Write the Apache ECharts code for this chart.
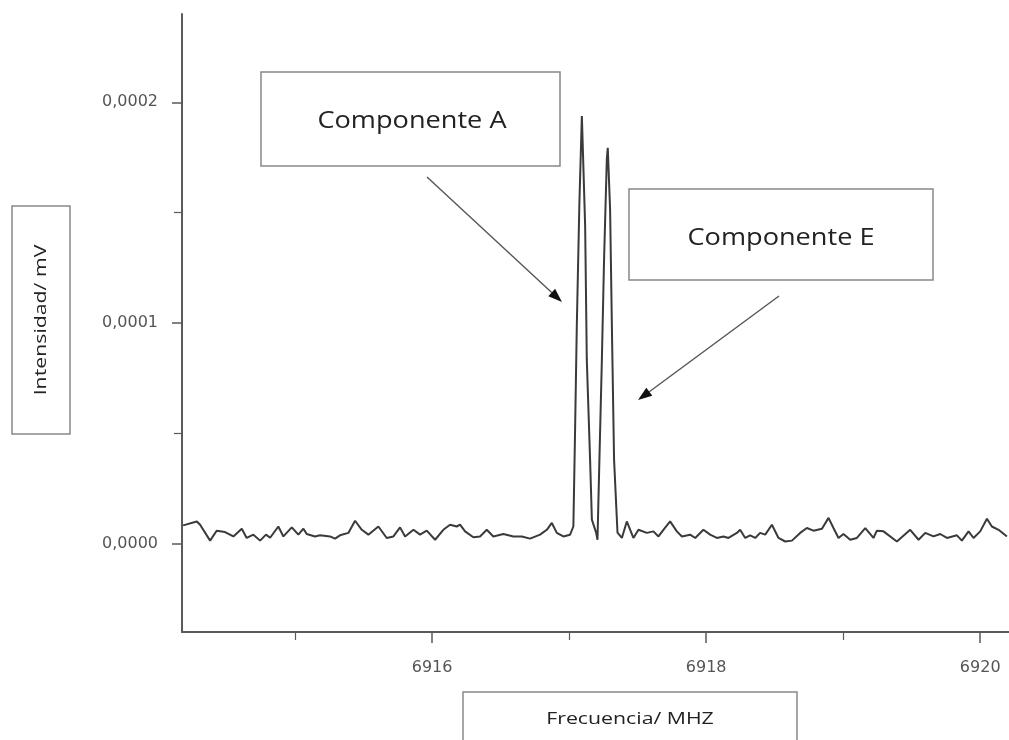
<!DOCTYPE html>
<html>
<head>
<meta charset="utf-8">
<script src="https://cdn.jsdelivr.net/npm/echarts@6/dist/echarts.min.js"></script>
<style>
html,body{margin:0;padding:0;background:#fff;}
#chart{width:1009px;height:740px;}
</style>
</head>
<body>
<div id="chart"></div>
<script>
// Frequency (MHz) of each sampled point of the spectrum
const freq = [
  6914.183, 6914.283, 6914.307, 6914.380, 6914.428, 6914.489, 6914.550, 6914.611, 6914.647, 6914.696,
  6914.745, 6914.788, 6914.818, 6914.878, 6914.915, 6914.976, 6915.024, 6915.061, 6915.085, 6915.146,
  6915.182, 6915.255, 6915.292, 6915.328, 6915.389, 6915.438, 6915.487, 6915.535, 6915.608, 6915.669,
  6915.718, 6915.766, 6915.803, 6915.864, 6915.912, 6915.961, 6916.022, 6916.082, 6916.131, 6916.180,
  6916.204, 6916.241, 6916.301, 6916.350, 6916.399, 6916.447, 6916.520, 6916.593, 6916.655, 6916.715,
  6916.788, 6916.837, 6916.874, 6916.910, 6916.958, 6917.007, 6917.031, 6917.044, 6917.056, 6917.075,
  6917.093, 6917.117, 6917.129, 6917.153, 6917.166, 6917.197, 6917.207, 6917.221, 6917.239, 6917.255,
  6917.275, 6917.282, 6917.299, 6917.312, 6917.328, 6917.353, 6917.385, 6917.421, 6917.469, 6917.506,
  6917.567, 6917.615, 6917.652, 6917.688, 6917.737, 6917.786, 6917.823, 6917.883, 6917.920, 6917.980,
  6918.029, 6918.078, 6918.126, 6918.163, 6918.224, 6918.248, 6918.285, 6918.321, 6918.358, 6918.394,
  6918.431, 6918.480, 6918.528, 6918.577, 6918.626, 6918.686, 6918.735, 6918.783, 6918.845, 6918.893,
  6918.929, 6918.966, 6919.002, 6919.051, 6919.100, 6919.161, 6919.221, 6919.246, 6919.294, 6919.392,
  6919.489, 6919.550, 6919.599, 6919.659, 6919.708, 6919.757, 6919.830, 6919.866, 6919.915, 6919.951,
  6920.000, 6920.049, 6920.085, 6920.134, 6920.195
];
// Intensity (mV) at each frequency
const intensity = [
  8.3e-6, 10.1e-6, 8.6e-6, 1.4e-6, 5.9e-6, 5.3e-6, 3.3e-6, 6.8e-6, 2.6e-6, 4.1e-6,
  1.4e-6, 4.1e-6, 2.7e-6, 7.8e-6, 3.3e-6, 7.4e-6, 4.1e-6, 6.8e-6, 4.4e-6, 3.3e-6,
  3.8e-6, 3.3e-6, 2.3e-6, 3.8e-6, 4.9e-6, 10.4e-6, 6.3e-6, 4.1e-6, 7.8e-6, 2.6e-6,
  3.3e-6, 7.4e-6, 3.3e-6, 6.3e-6, 4.1e-6, 5.9e-6, 1.8e-6, 6.3e-6, 8.6e-6, 7.8e-6,
  8.6e-6, 5.6e-6, 2.9e-6, 3.3e-6, 6.3e-6, 3.3e-6, 4.4e-6, 3.3e-6, 3.3e-6, 2.3e-6,
  4.1e-6, 6.3e-6, 9.4e-6, 4.9e-6, 3.3e-6, 4.1e-6, 7.8e-6, 53.2e-6, 98.5e-6, 154.6e-6,
  193.8e-6, 143.9e-6, 83.4e-6, 38.1e-6, 10.9e-6, 5.0e-6, 1.8e-6, 38.1e-6, 83.4e-6, 128.8e-6,
  174.1e-6, 179.4e-6, 151.5e-6, 98.5e-6, 38.1e-6, 5.0e-6, 2.6e-6, 10.1e-6, 2.6e-6, 6.3e-6,
  4.9e-6, 5.6e-6, 3.3e-6, 6.3e-6, 10.1e-6, 5.6e-6, 3.3e-6, 4.1e-6, 2.6e-6, 6.3e-6,
  4.1e-6, 2.6e-6, 3.3e-6, 2.6e-6, 4.9e-6, 6.3e-6, 2.6e-6, 3.8e-6, 2.6e-6, 4.9e-6,
  4.1e-6, 8.6e-6, 2.6e-6, 1.0e-6, 1.4e-6, 4.9e-6, 7.1e-6, 5.9e-6, 6.8e-6, 11.7e-6,
  7.1e-6, 2.6e-6, 4.4e-6, 1.8e-6, 2.6e-6, 7.1e-6, 2.6e-6, 5.9e-6, 5.6e-6, 1.0e-6,
  6.3e-6, 1.8e-6, 4.9e-6, 3.3e-6, 4.4e-6, 2.6e-6, 3.8e-6, 1.4e-6, 5.6e-6, 2.6e-6,
  5.6e-6, 11.3e-6, 7.8e-6, 6.3e-6, 3.3e-6
];
// Tick values
const xLabelTicks = [6916, 6918, 6920];
const xMinorTicks = [6915, 6917, 6919];
const yLabelTicks = [0, 0.0001, 0.0002];
const yMinorTicks = [0.00005, 0.00015];
// Annotation texts
const labelA = 'Componente A';
const labelE = 'Componente E';
const yTitle = 'Intensidad/ mV';
const xTitle = 'Frecuencia/ MHZ';

const chart = echarts.init(document.getElementById('chart'), null, {renderer: 'canvas'});
const axisColor = '#5a5a5a';
const labelFont = {color: '#555', fontSize: 16, fontFamily: 'DejaVu Sans, Liberation Sans, sans-serif'};
const xMin = 6914.175, xMax = 6920.21;
const yMin = -0.00004, yMax = 0.00024;
const boxFont = 'Open Sans, Noto Sans, sans-serif';

const option = {
  animation: false,
  backgroundColor: '#fff',
  grid: {left: 182, top: 14, right: 0, bottom: 108, containLabel: false},
  xAxis: [
    {
      type: 'value', position: 'bottom', min: xMin, max: xMax,
      axisLine: {show: true, onZero: false, lineStyle: {color: axisColor, width: 2}},
      axisTick: {show: true, customValues: xLabelTicks, length: 11, lineStyle: {color: axisColor, width: 1.5}},
      axisLabel: Object.assign({customValues: xLabelTicks, margin: 28, formatter: v => String(Math.round(v))}, labelFont),
      splitLine: {show: false}
    },
    {
      type: 'value', position: 'bottom', min: xMin, max: xMax,
      axisLine: {show: false, onZero: false},
      axisTick: {show: true, customValues: xMinorTicks, length: 8, lineStyle: {color: axisColor, width: 1.2}},
      axisLabel: {show: false},
      splitLine: {show: false}
    }
  ],
  yAxis: [
    {
      type: 'value', position: 'left', min: yMin, max: yMax,
      axisLine: {show: true, onZero: false, lineStyle: {color: axisColor, width: 2}},
      axisTick: {show: true, customValues: yLabelTicks, length: 10, lineStyle: {color: axisColor, width: 1.5}},
      axisLabel: Object.assign({customValues: yLabelTicks, margin: 24, formatter: v => v.toFixed(4).replace('.', ',')}, labelFont),
      splitLine: {show: false}
    },
    {
      type: 'value', position: 'left', min: yMin, max: yMax,
      axisLine: {show: false, onZero: false},
      axisTick: {show: true, customValues: yMinorTicks, length: 8, lineStyle: {color: axisColor, width: 1.2}},
      axisLabel: {show: false},
      splitLine: {show: false}
    }
  ],
  series: [{
    type: 'line',
    xAxisIndex: 0, yAxisIndex: 0,
    data: freq.map((f, i) => [f, intensity[i]]),
    showSymbol: false, symbol: 'none',
    lineStyle: {color: '#3a3a3a', width: 2},
    clip: true
  }],
  graphic: [
    // Componente A box
    {type: 'rect', shape: {x: 261, y: 72, width: 299, height: 94}, style: {fill: '#fff', stroke: '#888', lineWidth: 1.5}, z: 10},
    {type: 'text', x: 412, y: 121, scaleX: 1.18, style: {text: labelA, font: '23px ' + boxFont, fill: '#222', align: 'center', verticalAlign: 'middle'}, z: 11},
    // Componente E box
    {type: 'rect', shape: {x: 629, y: 189, width: 304, height: 91}, style: {fill: '#fff', stroke: '#888', lineWidth: 1.5}, z: 10},
    {type: 'text', x: 781, y: 238, scaleX: 1.18, style: {text: labelE, font: '23px ' + boxFont, fill: '#222', align: 'center', verticalAlign: 'middle'}, z: 11},
    // y title box
    {type: 'rect', shape: {x: 12, y: 206, width: 58, height: 228}, style: {fill: '#fff', stroke: '#888', lineWidth: 1.5}, z: 10},
    {type: 'text', x: 41, y: 320, rotation: Math.PI / 2, scaleX: 1.33, style: {text: yTitle, font: '16px ' + boxFont, fill: '#222', align: 'center', verticalAlign: 'middle'}, z: 11},
    // x title box
    {type: 'rect', shape: {x: 463, y: 692, width: 334, height: 70}, style: {fill: '#fff', stroke: '#888', lineWidth: 1.5}, z: 10},
    {type: 'text', x: 630, y: 719, scaleX: 1.33, style: {text: xTitle, font: '16px ' + boxFont, fill: '#222', align: 'center', verticalAlign: 'middle'}, z: 11},
    // arrow A
    {type: 'line', shape: {x1: 427, y1: 177, x2: 551.7, y2: 292.5}, style: {stroke: '#555', lineWidth: 1.4}, z: 10},
    {type: 'polygon', shape: {points: [[562, 302], [548.3, 296.2], [555.1, 288.8]]}, style: {fill: '#111'}, z: 10},
    // arrow E
    {type: 'line', shape: {x1: 779, y1: 296, x2: 649.3, y2: 391.7}, style: {stroke: '#555', lineWidth: 1.4}, z: 10},
    {type: 'polygon', shape: {points: [[638, 400], [646.3, 387.7], [652.3, 395.7]]}, style: {fill: '#111'}, z: 10}
  ]
};
chart.setOption(option);
</script>
</body>
</html>
